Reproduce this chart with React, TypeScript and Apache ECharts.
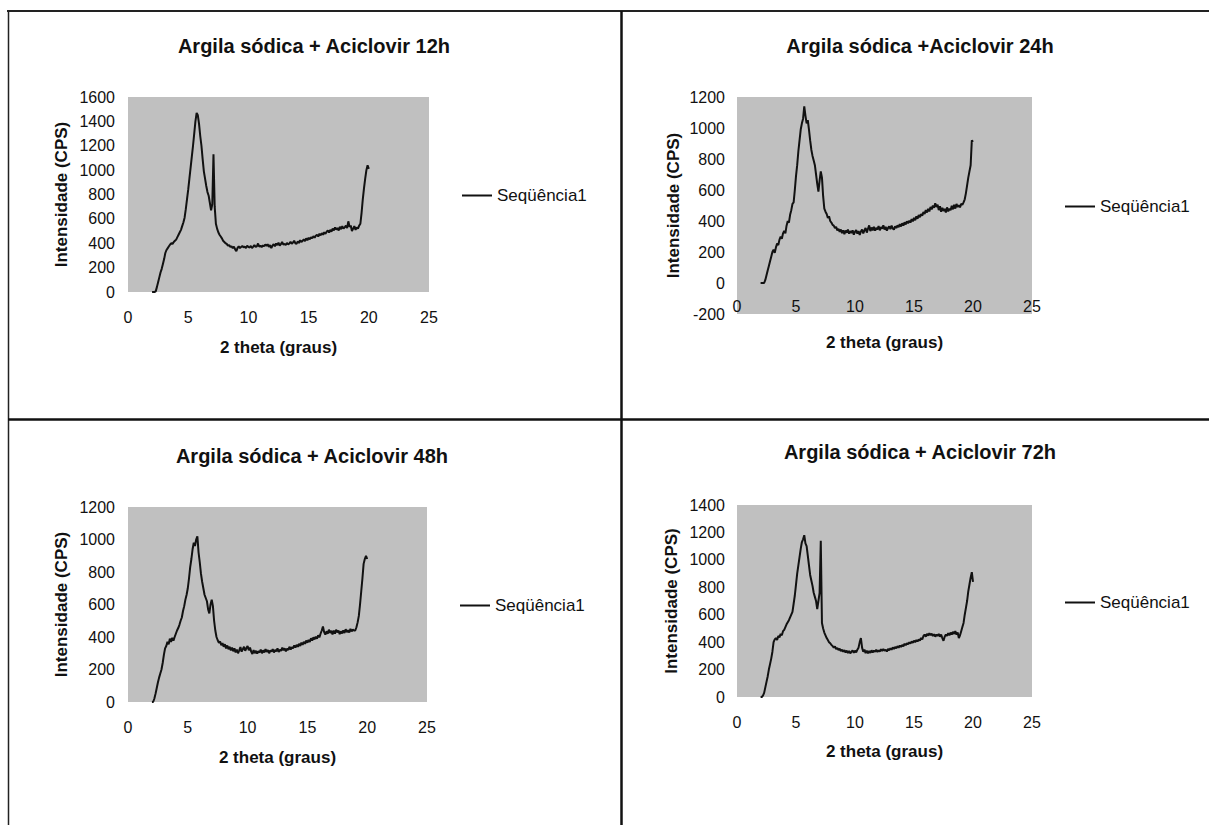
import React, { useEffect, useRef } from "react";
import * as echarts from "echarts";

// 2 theta sampling positions (degrees)
const THETA = [
  2.0, 2.1, 2.2, 2.3, 2.4, 2.5, 2.6, 2.7, 2.8, 2.9,
  3.0, 3.1, 3.2, 3.3, 3.4, 3.5, 3.6, 3.7, 3.8, 3.9,
  4.0, 4.1, 4.2, 4.3, 4.4, 4.5, 4.6, 4.7, 4.8, 4.9,
  5.0, 5.1, 5.2, 5.3, 5.4, 5.5, 5.6, 5.7, 5.8, 5.9,
  6.0, 6.1, 6.2, 6.3, 6.4, 6.5, 6.6, 6.7, 6.8, 6.9,
  7.0, 7.1, 7.2, 7.3, 7.4, 7.5, 7.6, 7.7, 7.8, 7.9,
  8.0, 8.1, 8.2, 8.3, 8.4, 8.5, 8.6, 8.7, 8.8, 8.9,
  9.0, 9.1, 9.2, 9.3, 9.4, 9.5, 9.6, 9.7, 9.8, 9.9,
  10.0, 10.1, 10.2, 10.3, 10.4, 10.5, 10.6, 10.7, 10.8, 10.9,
  11.0, 11.1, 11.2, 11.3, 11.4, 11.5, 11.6, 11.7, 11.8, 11.9,
  12.0, 12.1, 12.2, 12.3, 12.4, 12.5, 12.6, 12.7, 12.8, 12.9,
  13.0, 13.1, 13.2, 13.3, 13.4, 13.5, 13.6, 13.7, 13.8, 13.9,
  14.0, 14.1, 14.2, 14.3, 14.4, 14.5, 14.6, 14.7, 14.8, 14.9,
  15.0, 15.1, 15.2, 15.3, 15.4, 15.5, 15.6, 15.7, 15.8, 15.9,
  16.0, 16.1, 16.2, 16.3, 16.4, 16.5, 16.6, 16.7, 16.8, 16.9,
  17.0, 17.1, 17.2, 17.3, 17.4, 17.5, 17.6, 17.7, 17.8, 17.9,
  18.0, 18.1, 18.2, 18.3, 18.4, 18.5, 18.6, 18.7, 18.8, 18.9,
  19.0, 19.1, 19.2, 19.3, 19.4, 19.5, 19.6, 19.7, 19.8, 19.9,
  20.0,
];

const H12 = [
  0, 0, 0, 5, 40, 80, 120, 160, 190, 230,
  270, 320, 345, 360, 375, 390, 400, 395, 410, 420,
  430, 450, 470, 490, 510, 540, 570, 610, 680, 760,
  840, 930, 1020, 1110, 1200, 1300, 1400, 1470, 1450, 1380,
  1280, 1200, 1090, 990, 930, 870, 820, 790, 730, 670,
  720, 1130, 700, 560, 520, 490, 470, 455, 440, 420,
  410, 400, 395, 380, 385, 370, 375, 360, 372, 350,
  335, 362, 375, 360, 370, 378, 365, 372, 360, 380,
  370, 365, 378, 360, 372, 385, 370, 375, 398, 372,
  380, 368, 382, 375, 390, 378, 392, 370, 385, 360,
  380, 392, 375, 398, 385, 405, 380, 392, 410, 388,
  395, 385, 402, 390, 398, 412, 395, 405, 420, 400,
  395, 415, 402, 425, 410, 420, 432, 418, 440, 425,
  445, 432, 450, 440, 458, 445, 462, 470, 455, 478,
  465, 482, 470, 490, 478, 495, 505, 488, 510, 495,
  520, 505, 530, 512, 525, 505, 535, 515, 540, 520,
  530, 545, 525, 580, 535, 545, 500, 520, 540, 510,
  530, 520, 545, 560, 650, 760, 850, 930, 1000, 1040,
  1010,
];

const H24 = [
  0, 0, 0, 0, 20, 50, 80, 110, 140, 170,
  200, 215, 195, 230, 255, 245, 280, 300, 285, 320,
  335, 320, 370, 400, 390, 440, 470, 510, 520, 600,
  690, 760, 850, 920, 990, 1030, 1060, 1140, 1080, 1030,
  1050, 990, 920, 860, 820, 790, 760, 700, 640, 590,
  660, 720, 680, 560, 480, 460, 445, 420, 430, 400,
  390, 375, 370, 355, 362, 340, 350, 330, 345, 322,
  340, 315, 338, 325, 345, 318, 335, 322, 340, 312,
  330, 342, 318, 335, 310, 332, 345, 320, 340, 355,
  325, 350, 372, 335, 358, 340, 362, 338, 355, 345,
  368, 340, 360, 350, 372, 345, 362, 338, 355, 365,
  348, 370, 352, 345, 365, 355, 372, 360, 380, 365,
  385, 370, 392, 378, 398, 385, 402, 390, 412, 398,
  420, 405, 430, 415, 438, 425, 445, 435, 458, 445,
  470, 455, 478, 462, 490, 475, 500, 485, 515, 490,
  505, 470, 495, 460, 485, 465, 478, 455, 488, 462,
  480, 470, 498, 475, 505, 480, 510, 490, 502, 488,
  510, 505, 520, 540, 580, 630, 680, 720, 760, 920,
  910,
];

const H48 = [
  0, 0, 20, 50, 85, 120, 150, 175, 200, 240,
  290, 330, 345, 370, 355, 390, 370, 395, 378, 400,
  420, 440, 455, 475, 500, 520, 560, 590, 630, 660,
  700, 760, 830, 880, 940, 980, 960, 1000, 1020, 920,
  860, 790, 740, 700, 660, 640, 620, 570, 545, 600,
  630, 590, 500, 440, 400, 380, 365, 372, 350, 362,
  340, 355, 330, 348, 325, 340, 318, 335, 312, 330,
  305, 322, 300, 318, 338, 310, 325, 340, 315, 332,
  345, 318, 335, 310, 295, 320, 300, 315, 298, 312,
  305, 322, 300, 318, 305, 325, 308, 320, 300, 318,
  310, 325, 305, 320, 312, 330, 308, 322, 315, 335,
  318, 330, 312, 328, 320, 340, 322, 338, 330, 348,
  335, 352, 340, 358, 345, 365, 352, 370, 358, 378,
  365, 382, 370, 392, 378, 398, 385, 402, 390, 410,
  398, 420, 440, 465, 430, 415, 435, 420, 445, 425,
  438, 415, 440, 420, 445, 428, 440, 418, 435, 422,
  440, 425, 448, 430, 442, 428, 450, 435, 445, 440,
  440, 460, 490, 530, 600, 680, 760, 850, 880, 900,
  880,
];

const H72 = [
  0, 0, 10, 30, 70, 110, 150, 200, 240, 280,
  330, 400, 420, 430, 415, 445, 435, 460, 450, 480,
  490, 510, 530, 545, 560, 580, 600, 620, 680, 740,
  820, 900, 960, 1020, 1080, 1130, 1150, 1180, 1120, 1100,
  1030, 960, 890, 850, 810, 760, 730, 700, 640, 700,
  760, 1140, 540, 500, 470, 450, 430, 415, 400, 392,
  380, 372, 360, 368, 350, 358, 342, 352, 335, 345,
  330, 342, 325, 338, 320, 335, 318, 330, 340, 322,
  338, 325, 345, 360, 400, 430, 360, 330, 345, 320,
  338, 318, 335, 322, 340, 325, 338, 330, 345, 328,
  340, 332, 348, 335, 350, 338, 345, 332, 350, 340,
  355, 345, 362, 350, 365, 355, 370, 360, 375, 365,
  380, 370, 388, 378, 392, 385, 398, 390, 405, 395,
  410, 400, 415, 405, 420, 412, 430, 420, 445, 455,
  440, 460, 448, 465, 450, 462, 445, 458, 440, 455,
  445, 460, 440, 455, 430, 410, 440, 455, 445, 465,
  450, 470, 455, 475, 460, 480, 455, 470, 430, 450,
  480, 510, 540, 600, 650, 700, 770, 820, 870, 910,
  840,
];

const TITLES = [
  "Argila sódica + Aciclovir 12h",
  "Argila sódica +Aciclovir 24h",
  "Argila sódica + Aciclovir 48h",
  "Argila sódica + Aciclovir 72h",
];
const SERIES_VALUES = [H12, H24, H48, H72];
const Y_MIN = [0, -200, 0, 0];
const Y_MAX = [1600, 1200, 1200, 1400];
const Y_INTERVAL = 200;
const X_MIN = 0;
const X_MAX = 25;
const X_INTERVAL = 5;
const SERIES_NAME = "Seqüência1";
const X_NAME = "2 theta (graus)";
const Y_NAME = "Intensidade (CPS)";

const FONT = "'Liberation Sans', Arial, sans-serif";

export default function App() {
  const ref = useRef<HTMLDivElement>(null);

  useEffect(() => {
    if (!ref.current) return;
    const chart = echarts.init(ref.current, null, { renderer: "svg" });

    const grids = [
      { left: 128, top: 97, width: 301, height: 195 },
      { left: 737, top: 97, width: 295, height: 217 },
      { left: 128, top: 507, width: 299, height: 195 },
      { left: 737, top: 505, width: 295, height: 192 },
    ];
    const titleCenters = [
      [314, 47],
      [920, 47],
      [312, 457],
      [920, 453],
    ];
    const legendPos = [
      [462, 196],
      [1065, 207],
      [460, 606],
      [1065, 603],
    ];
    const xNameGap = [47, 51, 47, 46];
    const xLabelMargin = [17, 15, 17, 17];
    const yNameGap = [58, 55, 58, 57];
    const yLabelMargin = [13, 12, 13, 12];

    // the x axis crosses the y axis at value 0 (Excel style)
    const xOffset = grids.map((g, i) => {
      const frac = (0 - Y_MIN[i]) / (Y_MAX[i] - Y_MIN[i]);
      return -Math.round(frac * g.height);
    });

    const option: any = {
      animation: false,
      backgroundColor: "#ffffff",
      title: TITLES.map((t, i) => ({
        text: t,
        left: titleCenters[i][0],
        top: titleCenters[i][1] - 11,
        textAlign: "center",
        padding: 0,
        textStyle: {
          fontFamily: FONT,
          fontSize: 20,
          fontWeight: "bold",
          color: "#111",
        },
      })),
      legend: legendPos.map((p) => ({
        data: [SERIES_NAME],
        left: p[0],
        top: p[1] - 9,
        padding: 0,
        icon: "rect",
        itemWidth: 30,
        itemHeight: 2,
        selectedMode: false,
        textStyle: { fontFamily: FONT, fontSize: 17, color: "#111" },
      })),
      grid: grids.map((g) => ({
        ...g,
        containLabel: false,
        outerBoundsMode: "none",
        show: true,
        backgroundColor: "#c0c0c0",
        borderWidth: 0,
      })),
      xAxis: grids.map((_, i) => ({
        type: "value",
        gridIndex: i,
        position: "bottom",
        offset: xOffset[i],
        min: X_MIN,
        max: X_MAX,
        interval: X_INTERVAL,
        name: X_NAME,
        nameLocation: "middle",
        nameGap: xNameGap[i],
        nameMoveOverlap: false,
        nameTextStyle: {
          fontFamily: FONT,
          fontSize: 17,
          fontWeight: "bold",
          color: "#111",
        },
        axisLine: { show: false, onZero: false },
        axisTick: { show: false },
        splitLine: { show: false },
        axisLabel: {
          fontFamily: FONT,
          fontSize: 16,
          color: "#111",
          margin: xLabelMargin[i],
          formatter: (v: number) => String(v),
        },
      })),
      yAxis: grids.map((_, i) => ({
        type: "value",
        gridIndex: i,
        min: Y_MIN[i],
        max: Y_MAX[i],
        interval: Y_INTERVAL,
        name: Y_NAME,
        nameLocation: "middle",
        nameRotate: 90,
        nameGap: yNameGap[i],
        nameMoveOverlap: false,
        nameTextStyle: {
          fontFamily: FONT,
          fontSize: 17,
          fontWeight: "bold",
          color: "#111",
        },
        axisLine: { show: false, onZero: false },
        axisTick: { show: false },
        splitLine: { show: false },
        axisLabel: {
          fontFamily: FONT,
          fontSize: 16,
          color: "#111",
          margin: yLabelMargin[i],
          formatter: (v: number) => String(v),
        },
      })),
      series: SERIES_VALUES.map((vals, i) => ({
        type: "line",
        name: SERIES_NAME,
        xAxisIndex: i,
        yAxisIndex: i,
        showSymbol: false,
        symbol: "none",
        color: "#111",
        lineStyle: { color: "#111", width: 2 },
        data: THETA.map((t, k) => [t, vals[k]]),
      })),
      graphic: [
        {
          type: "line",
          shape: { x1: 7, y1: 11, x2: 1209, y2: 11 },
          style: { stroke: "#222", lineWidth: 2 },
        },
        {
          type: "line",
          shape: { x1: 8.5, y1: 11, x2: 8.5, y2: 825 },
          style: { stroke: "#222", lineWidth: 1.5 },
        },
        {
          type: "line",
          shape: { x1: 621.5, y1: 11, x2: 621.5, y2: 825 },
          style: { stroke: "#111", lineWidth: 2.5 },
        },
        {
          type: "line",
          shape: { x1: 8, y1: 419.5, x2: 1209, y2: 419.5 },
          style: { stroke: "#111", lineWidth: 2.5 },
        },
      ],
    };

    chart.setOption(option);
    return () => {
      chart.dispose();
    };
  }, []);

  return (
    <div
      ref={ref}
      style={{
        position: "absolute",
        left: 0,
        top: 0,
        width: 1209,
        height: 825,
        background: "#fff",
      }}
    />
  );
}
